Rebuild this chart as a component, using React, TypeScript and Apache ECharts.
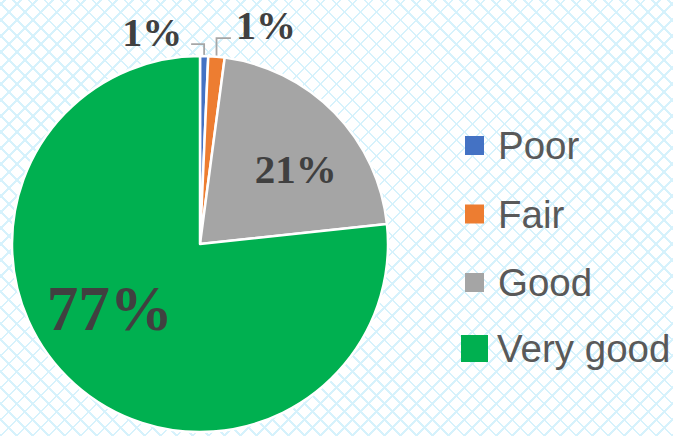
import React, { useEffect, useRef } from "react";
import * as echarts from "echarts";

const categories = ["Poor", "Fair", "Good", "Very good"];
const values = [0.7, 1.4, 21.2, 76.7];
const colors = ["#4472c4", "#ed7d31", "#a5a5a5", "#00b050"];

// label placement tweaks (style only)
const labelStyles = [
  { pos: "outside", size: 40, dx: -52, dy: -24, lineUp: -12, lineEnd: -13 },
  { pos: "outside", size: 40, dx: 49.4, dy: -31.2, lineUp: -18.7, lineEnd: 14.4 },
  { pos: "inside", size: 41, dx: 26.3, dy: -7 },
  { pos: "inside", size: 63, dx: -25.3, dy: -6.8 },
];

export default function App() {
  const ref = useRef<HTMLDivElement>(null);
  useEffect(() => {
    document.body.style.margin = "0";
    const chart = echarts.init(ref.current!, null, { renderer: "svg" });
    const legendText = {
      fontFamily: "Liberation Sans",
      fontSize: 38.5,
      color: "#595959",
      lineHeight: 38,
    };
    chart.setOption({
      animation: false,
      backgroundColor: "transparent",
      legend: [
        {
          orient: "vertical",
          left: 465,
          top: 126,
          padding: 0,
          itemWidth: 19,
          itemHeight: 19,
          itemGap: 29.5,
          icon: "rect",
          itemStyle: { borderWidth: 0 },
          data: categories.slice(0, 3),
          textStyle: { ...legendText, padding: [0, 0, 0, 9] },
        },
        {
          orient: "vertical",
          left: 461,
          top: 329,
          padding: 0,
          itemWidth: 27,
          itemHeight: 27,
          icon: "rect",
          itemStyle: { borderWidth: 0 },
          data: categories.slice(3),
          textStyle: { ...legendText, padding: [0, 0, 0, 4] },
        },
      ],
      series: [
        {
          type: "pie",
          center: [200, 244],
          radius: 188,
          startAngle: 90,
          clockwise: true,
          avoidLabelOverlap: false,
          itemStyle: { borderColor: "#ffffff", borderWidth: 2.5 },
          labelLine: {
            lineStyle: { color: "#a6a6a6", width: 1.8 },
          },
          data: categories.map((name, i) => ({
            name,
            value: values[i],
            itemStyle: { color: colors[i] },
            label: {
              show: true,
              position: labelStyles[i].pos,
              formatter: (p: any) => Math.round(p.value) + "%",
              fontFamily: "Liberation Serif",
              fontWeight: "bold",
              fontSize: labelStyles[i].size,
              color: "#404040",
            },
            labelLine: { show: labelStyles[i].pos === "outside" },
          })),
          labelLayout: (params: any) => {
            const s = labelStyles[params.dataIndex];
            if (s.pos === "inside") {
              return { dx: s.dx, dy: s.dy };
            }
            const p0 = params.labelLinePoints[0];
            const yLine = p0[1] + (s.lineUp as number);
            return {
              x: p0[0] + s.dx,
              y: p0[1] + s.dy,
              align: "center",
              verticalAlign: "middle",
              labelLinePoints: [
                [p0[0], p0[1]],
                [p0[0], yLine],
                [p0[0] + (s.lineEnd as number), yLine],
              ],
            };
          },
        },
      ],
    });
    return () => chart.dispose();
  }, []);
  const lineCol = "#d6f2fc";
  return (
    <div
      ref={ref}
      style={{
        width: 673,
        height: 436,
        backgroundColor: "#ffffff",
        backgroundImage: `repeating-linear-gradient(45deg, ${lineCol} 0px, ${lineCol} 1.8px, transparent 1.8px, transparent 11.3px), repeating-linear-gradient(-45deg, ${lineCol} 0px, ${lineCol} 1.8px, transparent 1.8px, transparent 11.3px)`,
      }}
    />
  );
}
